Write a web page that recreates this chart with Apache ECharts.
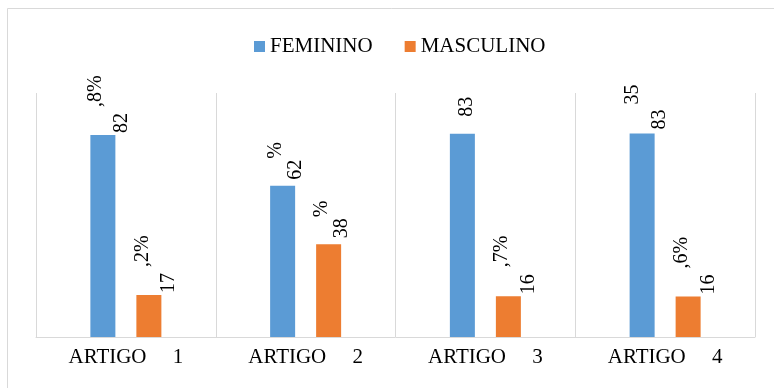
<!DOCTYPE html>
<html>
<head>
<meta charset="utf-8">
<script src="https://cdn.jsdelivr.net/npm/echarts@6/dist/echarts.min.js"></script>
<style>
  html, body { margin: 0; padding: 0; background: #fff; }
  #chart { width: 774px; height: 388px; }
</style>
</head>
<body>
<div id="chart"></div>
<script>
// Categories and series values (percent)
const categories = ['ARTIGO     1', 'ARTIGO     2', 'ARTIGO     3', 'ARTIGO     4'];
const femininoValues = [82.8, 62, 83.3, 83.4];
const masculinoValues = [17.2, 38, 16.7, 16.6];

// Value labels as printed: integer part and the wrapped remainder
const femininoMain = ['82', '62', '83', '83'];
const femininoTail = [',8%', '%', '', '35'];
const masculinoMain = ['17', '38', '16', '16'];
const masculinoTail = [',2%', '%', ',7%', ',6%'];

const SERIF = '"Liberation Serif", "Times New Roman", serif';

// Rotated two-line value label placed above a bar.
// The label is turned 90deg, so its local y axis runs to the right on screen.
function valueLabel(main, tail, l) {
  const base = { fontFamily: SERIF, fontSize: 20, color: '#000', lineHeight: l.lineHeight };
  return {
    show: true,
    position: 'top',
    rotate: 90,
    align: 'left',
    verticalAlign: 'middle',
    distance: l.distance,
    offset: [0, l.dx],
    fontFamily: SERIF,
    fontSize: 20,
    color: '#000',
    lineHeight: l.lineHeight,
    formatter: tail ? '{t|' + tail + '}\n{m|' + main + '}' : '{m|' + main + '}',
    rich: {
      t: Object.assign({ padding: [0, 0, 0, l.pad] }, base),
      m: Object.assign({}, base)
    }
  };
}

// Per-category spacing of the wrapped labels
const labelLayout = [
  { distance: 2, pad: 26, lineHeight: 26, dxF: 6, dxM: 7 },
  { distance: 6, pad: 21, lineHeight: 20, dxF: 3, dxM: 3 },
  { distance: 2, pad: 27, lineHeight: 27, dxF: 4, dxM: 7 },
  { distance: 2, pad: 26, lineHeight: 27, dxF: 4, dxM: 7 }
];

function buildData(values, mains, tails, isFem) {
  return values.map(function (v, i) {
    const src = labelLayout[i];
    const l = {
      distance: src.distance, pad: src.pad, lineHeight: src.lineHeight,
      dx: isFem ? src.dxF : src.dxM
    };
    if (isFem && i === 2) l.distance = 17;
    if (isFem && i === 3) { l.distance = 4; l.pad = 25; }
    return { value: v, label: valueLabel(mains[i], tails[i], l) };
  });
}

const chart = echarts.init(document.getElementById('chart'), null, { renderer: 'canvas' });

chart.setOption({
  animation: false,
  backgroundColor: '#fff',
  color: ['#5b9bd5', '#ed7d31'],
  graphic: [{
    type: 'rect',
    shape: { x: 7.5, y: 8.5, width: 820, height: 420 },
    style: { fill: 'none', stroke: '#d9d9d9', lineWidth: 1 },
    silent: true
  }],
  legend: {
    left: 249,
    top: 31,
    itemWidth: 11,
    itemHeight: 11,
    itemGap: 32,
    icon: 'rect',
    textStyle: { fontFamily: SERIF, fontSize: 21, color: '#000' },
    data: ['FEMININO', 'MASCULINO']
  },
  grid: { left: 36, right: 19, top: 93, bottom: 51, containLabel: false },
  xAxis: {
    type: 'category',
    data: categories,
    axisLine: { show: true, lineStyle: { color: '#d9d9d9', width: 1 } },
    axisTick: { show: false },
    splitLine: { show: true, lineStyle: { color: '#d9d9d9', width: 1 } },
    axisLabel: { fontFamily: SERIF, fontSize: 21, color: '#000', margin: 10 }
  },
  yAxis: {
    type: 'value',
    min: 0,
    max: 100,
    show: false,
    splitLine: { show: false }
  },
  series: [
    {
      name: 'FEMININO',
      type: 'bar',
      barWidth: 25,
      barGap: '84%',
      data: buildData(femininoValues, femininoMain, femininoTail, true)
    },
    {
      name: 'MASCULINO',
      type: 'bar',
      barWidth: 25,
      barGap: '84%',
      data: buildData(masculinoValues, masculinoMain, masculinoTail, false)
    }
  ]
});
</script>
</body>
</html>
